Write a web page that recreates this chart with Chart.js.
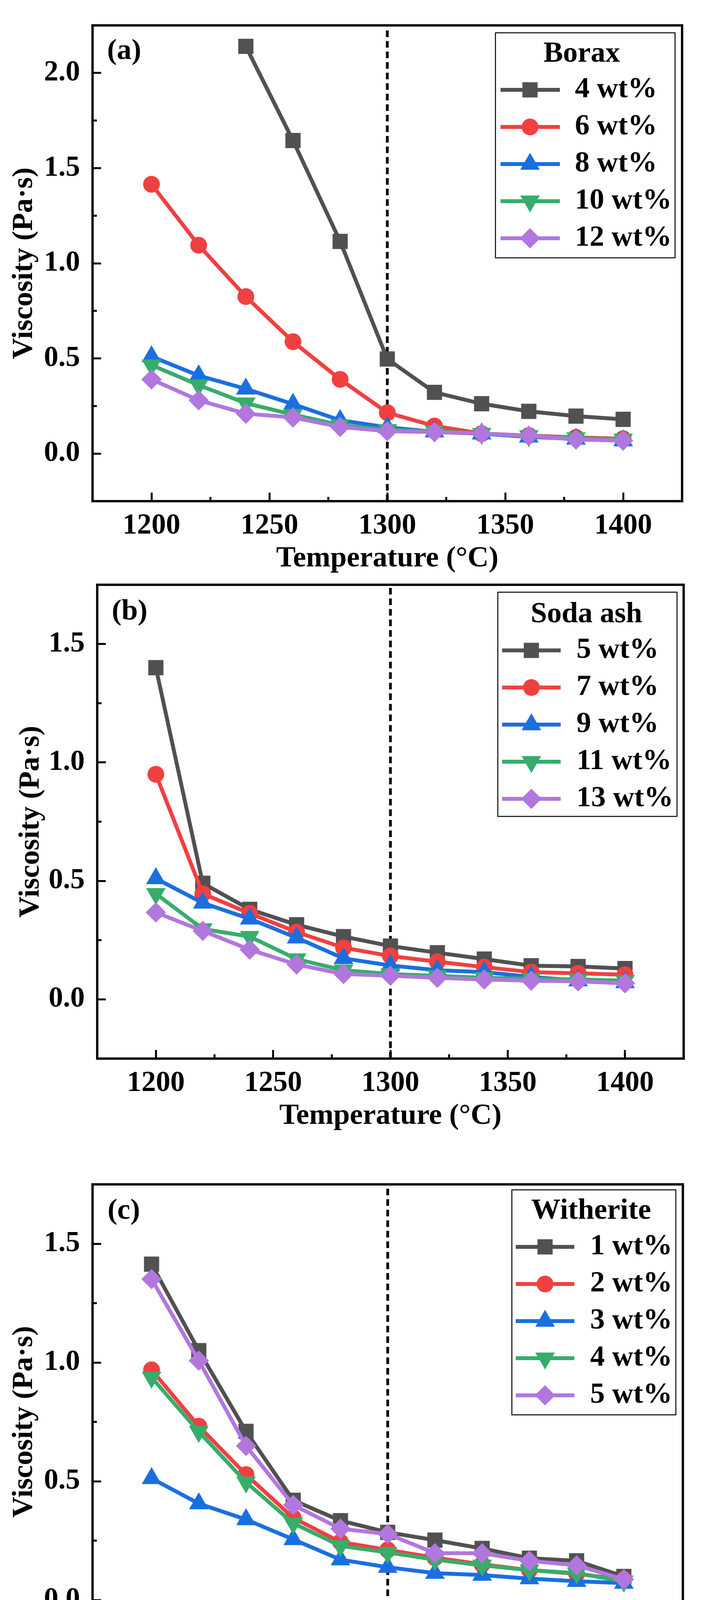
<!DOCTYPE html>
<html>
<head>
<meta charset="utf-8">
<title>Viscosity vs temperature</title>
<script src="https://cdn.jsdelivr.net/npm/chart.js@4.4.1/dist/chart.umd.min.js"></script>
<style>
  html, body { margin: 0; padding: 0; background: #fff; }
  #page { position: relative; width: 1798px; height: 5908px; overflow: hidden; background: #fff; }
  #page canvas { position: absolute; left: 0; }
</style>
</head>
<body>
<div id="page"></div>
<script>
// ---- data ----
const temperatureC = [1200, 1220, 1240, 1260, 1280, 1300, 1320, 1340, 1360, 1380, 1400];
const temperatureTicks = [1200, 1250, 1300, 1350, 1400];
const temperatureMinorTicks = [1225, 1275, 1325, 1375];
const temperatureGuide = 1300;

// (a) Borax
const boraxLabels = ['4 wt%', '6 wt%', '8 wt%', '10 wt%', '12 wt%'];
const borax4 = [null, null, 2.14, 1.645, 1.115, 0.497, 0.322, 0.262, 0.222, 0.197, 0.18];
const borax6 = [1.415, 1.095, 0.825, 0.588, 0.39, 0.215, 0.145, 0.105, 0.095, 0.085, 0.078];
const borax8 = [0.51, 0.41, 0.34, 0.26, 0.175, 0.138, 0.115, 0.104, 0.088, 0.077, 0.068];
const borax10 = [0.465, 0.36, 0.265, 0.205, 0.15, 0.125, 0.118, 0.105, 0.093, 0.082, 0.075];
const borax12 = [0.39, 0.28, 0.21, 0.19, 0.14, 0.118, 0.113, 0.105, 0.094, 0.074, 0.068];
const boraxTicks = [0, 0.5, 1.0, 1.5, 2.0];
const boraxMinorTicks = [0.25, 0.75, 1.25, 1.75];

// (b) Soda ash
const sodaLabels = ['5 wt%', '7 wt%', '9 wt%', '11 wt%', '13 wt%'];
const soda5 = [1.40, 0.49, 0.38, 0.315, 0.265, 0.225, 0.197, 0.17, 0.142, 0.139, 0.13];
const soda7 = [0.95, 0.446, 0.363, 0.284, 0.218, 0.183, 0.159, 0.136, 0.115, 0.11, 0.104];
const soda9 = [0.51, 0.407, 0.34, 0.26, 0.173, 0.143, 0.123, 0.115, 0.095, 0.079, 0.071];
const soda11 = [0.446, 0.297, 0.265, 0.17, 0.123, 0.107, 0.099, 0.091, 0.087, 0.084, 0.079];
const soda13 = [0.367, 0.289, 0.21, 0.147, 0.107, 0.1, 0.091, 0.084, 0.079, 0.076, 0.068];

// (c) Witherite
const witheriteLabels = ['1 wt%', '2 wt%', '3 wt%', '4 wt%', '5 wt%'];
const witherite1 = [1.414, 1.05, 0.71, 0.42, 0.334, 0.285, 0.252, 0.217, 0.176, 0.165, 0.099];
const witherite2 = [0.969, 0.732, 0.528, 0.346, 0.244, 0.211, 0.178, 0.15, 0.126, 0.11, 0.087];
const witherite3 = [0.512, 0.406, 0.339, 0.255, 0.17, 0.138, 0.113, 0.105, 0.09, 0.079, 0.071];
const witherite4 = [0.937, 0.709, 0.496, 0.323, 0.228, 0.2, 0.17, 0.146, 0.126, 0.113, 0.079];
const witherite5 = [1.351, 1.008, 0.649, 0.40, 0.30, 0.278, 0.197, 0.197, 0.165, 0.146, 0.087];
const lowTicks = [0, 0.5, 1.0, 1.5];
const lowMinorTicks = [0.25, 0.75, 1.25];

// (d) viscosity at 1300 C vs addition
const mineralLabels = ['Borax', 'Soda ash', 'Witherite'];
const additionBorax = [4, 6, 8, 10, 12];
const viscosityBorax = [0.497, 0.215, 0.138, 0.122, 0.12];
const additionSoda = [5, 7, 9, 11, 13];
const viscositySoda = [0.223, 0.18, 0.139, 0.106, 0.101];
const additionWitherite = [1, 2, 3, 4, 5];
const viscosityWitherite = [0.284, 0.211, 0.138, 0.201, 0.278];
const additionTicks = [0, 2, 4, 6, 8, 10, 12, 14];
const additionMinorTicks = [1, 3, 5, 7, 9, 11, 13];
const additionViscTicks = [0.1, 0.2, 0.3, 0.4, 0.5];
const additionViscMinorTicks = [0.15, 0.25, 0.35, 0.45];

// ---- styling ----
const FONT = "'Liberation Serif', 'Times New Roman', serif";
Chart.defaults.font.family = FONT;
Chart.defaults.font.weight = 'bold';
Chart.defaults.font.size = 75;
Chart.defaults.color = '#000';

const seriesColors = ['#515151', '#F14040', '#1A6FDF', '#37AD6B', '#B177DE'];
const markers = [
    { pointStyle: 'rect', radius: 27.5, rotation: 0 },
    { pointStyle: 'circle', radius: 21.5, rotation: 0 },
    { pointStyle: 'triangle', radius: 29, rotation: 0 },
    { pointStyle: 'triangle', radius: 29, rotation: 180 },
    { pointStyle: 'rectRot', radius: 26, rotation: 0 }
];
const LINE_W = 10;
const X_AXIS_H = 185;

// legend sample: a short line with the marker on it
function legendSwatch(i, len) {
    const c = document.createElement('canvas');
    c.width = len;
    c.height = 70;
    const ctx = c.getContext('2d');
    ctx.strokeStyle = seriesColors[i];
    ctx.lineWidth = LINE_W;
    ctx.beginPath();
    ctx.moveTo(0, 35);
    ctx.lineTo(len, 35);
    ctx.stroke();
    ctx.fillStyle = seriesColors[i];
    Chart.helpers.drawPoint(ctx, {
        pointStyle: markers[i].pointStyle,
        radius: markers[i].radius,
        rotation: markers[i].rotation,
        borderWidth: 0
    }, len / 2, 35);
    return c;
}

function series(i, label, xs, ys, swatchLen, tension) {
    return {
        label: label,
        data: xs.map((x, k) => ({ x: x, y: ys[k] })),
        borderColor: seriesColors[i],
        backgroundColor: seriesColors[i],
        borderWidth: LINE_W,
        pointStyle: markers[i].pointStyle,
        pointRadius: markers[i].radius,
        pointHoverRadius: markers[i].radius,
        pointRotation: markers[i].rotation,
        pointBackgroundColor: seriesColors[i],
        pointBorderWidth: 0,
        tension: tension,
        fill: false,
        spanGaps: false,
        order: 10 - i,
        swatch: legendSwatch(i, swatchLen)
    };
}

function guide(x, yMin, yMax) {
    return {
        label: 'guide',
        isGuide: true,
        data: [{ x: x, y: yMin }, { x: x, y: yMax }],
        borderColor: '#000',
        borderWidth: 7,
        borderDash: [17, 10],
        pointRadius: 0,
        pointHoverRadius: 0,
        order: 100
    };
}

// ---- panel layout (page pixel coordinates) ----
const panels = [
    {
        tag: '(a)', top: 0, height: 1470,
        area: { left: 237, top: 65, right: 1747, bottom: 1283 },
        tagPos: [318, 132],
        xMin: 1175, xMax: 1425, xTicks: temperatureTicks, xMinor: temperatureMinorTicks,
        yMin: -0.25, yMax: 2.25, yTicks: boraxTicks, yMinor: boraxMinorTicks,
        xTitle: 'Temperature (°C)', yTitlePad: 25,
        legendTitle: 'Borax', legendBox: [1269, 84, 1729, 660],
        legendLeft: 1260, legendWidth: 460, legendTop: 101.5, legendBoxWidth: 155,
        datasets: () => [
            series(0, boraxLabels[0], temperatureC, borax4, 152, 0),
            series(1, boraxLabels[1], temperatureC, borax6, 152, 0),
            series(2, boraxLabels[2], temperatureC, borax8, 152, 0),
            series(3, boraxLabels[3], temperatureC, borax10, 152, 0),
            series(4, boraxLabels[4], temperatureC, borax12, 152, 0),
            guide(temperatureGuide, -0.25, 2.25)
        ]
    },
    {
        tag: '(b)', top: 1470, height: 1470,
        area: { left: 249, top: 1497, right: 1751, bottom: 2710 },
        tagPos: [332, 1567],
        xMin: 1175, xMax: 1425, xTicks: temperatureTicks, xMinor: temperatureMinorTicks,
        yMin: -0.25, yMax: 1.75, yTicks: lowTicks, yMinor: lowMinorTicks,
        xTitle: 'Temperature (°C)', yTitlePad: 42,
        legendTitle: 'Soda ash', legendBox: [1275, 1516, 1734, 2090],
        legendLeft: 1263, legendWidth: 478, legendTop: 1536.5, legendBoxWidth: 156,
        datasets: () => [
            series(0, sodaLabels[0], temperatureC, soda5, 150, 0),
            series(1, sodaLabels[1], temperatureC, soda7, 150, 0),
            series(2, sodaLabels[2], temperatureC, soda9, 150, 0),
            series(3, sodaLabels[3], temperatureC, soda11, 150, 0),
            series(4, sodaLabels[4], temperatureC, soda13, 150, 0),
            guide(temperatureGuide, -0.25, 1.75)
        ]
    },
    {
        tag: '(c)', top: 2940, height: 1500,
        area: { left: 237, top: 3032, right: 1749, bottom: 4248 },
        tagPos: [317, 3101],
        xMin: 1175, xMax: 1425, xTicks: temperatureTicks, xMinor: temperatureMinorTicks,
        yMin: -0.25, yMax: 1.75, yTicks: lowTicks, yMinor: lowMinorTicks,
        xTitle: 'Temperature (°C)', yTitlePad: 25,
        legendTitle: 'Witherite', legendBox: [1311, 3046, 1731, 3622],
        legendLeft: 1298, legendWidth: 432, legendTop: 3063.5, legendBoxWidth: 156,
        datasets: () => [
            series(0, witheriteLabels[0], temperatureC, witherite1, 150, 0),
            series(1, witheriteLabels[1], temperatureC, witherite2, 150, 0),
            series(2, witheriteLabels[2], temperatureC, witherite3, 150, 0),
            series(3, witheriteLabels[3], temperatureC, witherite4, 150, 0),
            series(4, witheriteLabels[4], temperatureC, witherite5, 150, 0),
            guide(temperatureGuide, -0.25, 1.75)
        ]
    },
    {
        tag: '(d)', top: 4440, height: 1468,
        area: { left: 247, top: 4468, right: 1711, bottom: 5682 },
        tagPos: [334, 4537],
        xMin: 0, xMax: 14, xTicks: additionTicks, xMinor: additionMinorTicks,
        yMin: 0.05, yMax: 0.55, yTicks: additionViscTicks, yMinor: additionViscMinorTicks,
        xTitle: 'Mineral raw materials addition (wt%)', yTitlePad: 42,
        legendTitle: null, legendBox: [1185, 4487, 1688, 4782],
        legendLeft: 1191, legendWidth: 500, legendTop: 4483.5, legendBoxWidth: 132,
        datasets: () => [
            series(0, mineralLabels[0], additionBorax, viscosityBorax, 166, 0.4),
            series(1, mineralLabels[1], additionSoda, viscositySoda, 166, 0.4),
            series(2, mineralLabels[2], additionWitherite, viscosityWitherite, 166, 0.4)
        ]
    }
];

const page = document.getElementById('page');

// stop the scales from pushing the plot area inwards
function noScalePadding(s) {
    s.paddingTop = 0;
    s.paddingBottom = 0;
    s.paddingLeft = 0;
    s.paddingRight = 0;
}

panels.forEach(cfg => {
    const off = cfg.top;
    const canvas = document.createElement('canvas');
    canvas.width = 1798;
    canvas.height = cfg.height;
    canvas.style.top = off + 'px';
    canvas.style.width = '1798px';
    canvas.style.height = cfg.height + 'px';
    page.appendChild(canvas);

    const tickGrid = {
        display: true,
        drawOnChartArea: false,
        drawTicks: true,
        tickLength: -22,
        tickWidth: 5,
        tickColor: '#000'
    };

    // frame, minor ticks, legend box and panel tag
    const decor = {
        id: 'decor',
        beforeDraw(chart) {
            const lg = chart.legend;
            if (!lg) return;
            lg.left = cfg.legendLeft;
            lg.width = cfg.legendWidth;
            lg.right = lg.left + lg.width;
            lg.top = cfg.legendTop - off;
            lg.height = 1000;
            lg.bottom = lg.top + lg.height;
        },
        afterDraw(chart) {
            const ctx = chart.ctx;
            const a = chart.chartArea;
            const xs = chart.scales.x;
            const ys = chart.scales.y;
            ctx.save();
            ctx.strokeStyle = '#000';
            ctx.lineWidth = 5;
            ctx.beginPath();
            cfg.xMinor.forEach(v => {
                const px = xs.getPixelForValue(v);
                ctx.moveTo(px, a.bottom);
                ctx.lineTo(px, a.bottom - 11);
            });
            cfg.yMinor.forEach(v => {
                const py = ys.getPixelForValue(v);
                ctx.moveTo(a.left, py);
                ctx.lineTo(a.left + 11, py);
            });
            ctx.stroke();

            ctx.lineWidth = 6;
            ctx.strokeRect(a.left, a.top, a.right - a.left, a.bottom - a.top);

            const b = cfg.legendBox;
            ctx.lineWidth = 2.5;
            ctx.strokeRect(b[0], b[1] - off, b[2] - b[0], b[3] - b[1]);

            ctx.fillStyle = '#000';
            ctx.font = 'bold 75px ' + FONT;
            ctx.textAlign = 'center';
            ctx.textBaseline = 'middle';
            ctx.fillText(cfg.tag, cfg.tagPos[0], cfg.tagPos[1] - off);
            ctx.restore();
        }
    };

    new Chart(canvas, {
        type: 'line',
        data: { datasets: cfg.datasets() },
        options: {
            responsive: false,
            animation: false,
            events: [],
            layout: {
                autoPadding: false,
                padding: {
                    left: 0,
                    top: cfg.area.top - off,
                    right: 1798 - cfg.area.right,
                    bottom: cfg.height - (cfg.area.bottom - off) - X_AXIS_H
                }
            },
            plugins: {
                title: { display: false },
                tooltip: { enabled: false },
                legend: {
                    display: true,
                    position: 'chartArea',
                    align: 'start',
                    title: cfg.legendTitle ? {
                        display: true,
                        text: cfg.legendTitle,
                        color: '#000',
                        font: { size: 75, weight: 'bold', lineHeight: 1 },
                        padding: { top: 0, bottom: -4 }
                    } : { display: false },
                    labels: {
                        usePointStyle: true,
                        pointStyleWidth: cfg.legendBoxWidth,
                        padding: 20,
                        color: '#000',
                        font: { size: 75, weight: 'bold' },
                        generateLabels(chart) {
                            return chart.data.datasets.map((ds, i) => ds.isGuide ? null : {
                                text: ds.label,
                                fillStyle: ds.borderColor,
                                strokeStyle: ds.borderColor,
                                lineWidth: 0,
                                hidden: false,
                                pointStyle: ds.swatch,
                                rotation: 0,
                                datasetIndex: i,
                                fontColor: '#000'
                            }).filter(Boolean);
                        }
                    }
                }
            },
            scales: {
                x: {
                    type: 'linear',
                    position: 'bottom',
                    min: cfg.xMin,
                    max: cfg.xMax,
                    afterBuildTicks: s => { s.ticks = cfg.xTicks.map(v => ({ value: v })); },
                    afterFit: s => { s.height = X_AXIS_H; noScalePadding(s); },
                    ticks: {
                        autoSkip: false,
                        maxRotation: 0,
                        padding: 41,
                        color: '#000',
                        font: { size: 74, weight: 'bold' },
                        callback: v => String(v)
                    },
                    grid: tickGrid,
                    border: { display: false },
                    title: {
                        display: true,
                        text: cfg.xTitle,
                        color: '#000',
                        font: { size: 75, weight: 'bold', lineHeight: 1 },
                        padding: { top: 0, bottom: 0 }
                    }
                },
                y: {
                    type: 'linear',
                    position: 'left',
                    min: cfg.yMin,
                    max: cfg.yMax,
                    afterBuildTicks: s => { s.ticks = cfg.yTicks.map(v => ({ value: v })); },
                    afterFit: s => { s.width = cfg.area.left; noScalePadding(s); },
                    ticks: {
                        autoSkip: false,
                        padding: 54,
                        color: '#000',
                        font: { size: 74, weight: 'bold' },
                        callback: v => v.toFixed(1)
                    },
                    grid: tickGrid,
                    border: { display: false },
                    title: {
                        display: true,
                        text: 'Viscosity (Pa·s)',
                        color: '#000',
                        font: { size: 75, weight: 'bold', lineHeight: 1 },
                        padding: { top: cfg.yTitlePad, bottom: 0 }
                    }
                }
            }
        },
        plugins: [decor]
    });
});
</script>
</body>
</html>
